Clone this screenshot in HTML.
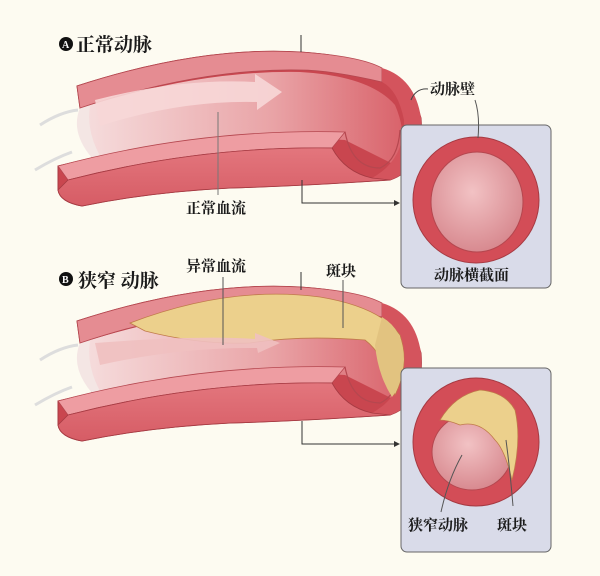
<!DOCTYPE html>
<html><head><meta charset="utf-8"><style>
body{margin:0;background:#fdfbf1;}
svg{display:block}
text{font-family:"Liberation Serif","Noto Serif CJK SC",serif;fill:#1a1a1a;font-weight:bold;}
</style></head><body>
<svg width="600" height="576" viewBox="0 0 600 576" xmlns="http://www.w3.org/2000/svg">
<defs>
<linearGradient id="lum" x1="0" x2="1"><stop offset="0" stop-color="#f6dede"/><stop offset="0.6" stop-color="#e9a3a6"/><stop offset="1" stop-color="#d9636b"/></linearGradient>
<linearGradient id="front" x1="0" y1="0" x2="0" y2="1"><stop offset="0" stop-color="#e3767d"/><stop offset="1" stop-color="#d65c65"/></linearGradient>
<radialGradient id="inner" cx="0.45" cy="0.4" r="0.6"><stop offset="0" stop-color="#f2c2c4"/><stop offset="1" stop-color="#d88a90"/></radialGradient>
<g id="artery">
  <path d="M77,86 Q200,46 300,52 Q405,58 421,118 Q425,168 390,180 Q300,186 230,188 Q150,192 82,206 Q60,202 58,190 L58,166 L92,158 Q86,130 80,108 Z" fill="#c9464f" stroke="#a63a42" stroke-width="1"/>
  <path d="M80,108 Q200,70 300,72 Q370,76 395,105 Q410,140 395,165 L345,140 Q200,130 92,158 Q86,130 80,108 Z" fill="url(#lum)"/>
  <path d="M80,108 Q70,132 92,158 L100,156 Q86,130 90,106 Z" fill="#f4e6e4"/>
  <path d="M77,86 Q200,46 300,52 Q360,56 382,68 L382,82 Q330,70 300,70 Q200,68 80,108 Z" fill="#e58c92" stroke="#b5474f" stroke-width="0.8"/>
  <path d="M382,68 Q415,78 421,118 Q425,168 390,180 L372,178 Q405,160 404,120 Q398,90 382,82 Z" fill="#d4545d"/>
  <path d="M58,166 Q200,128 345,132 L332,148 Q200,146 68,180 Z" fill="#ee9da2" stroke="#b5474f" stroke-width="0.8"/>
  <path d="M68,180 Q200,146 332,148 Q345,172 372,178 L390,180 Q300,186 230,188 Q150,192 82,206 Q60,202 58,190 Z" fill="url(#front)" stroke="#a63a42" stroke-width="0.8"/>
  <path d="M345,132 Q352,168 380,168 Q398,160 400,130" fill="none" stroke="#b5474f" stroke-width="1.2"/>
  <path d="M40,125 Q60,112 78,110 M35,170 Q55,158 72,152" stroke="#ddd" stroke-width="3" fill="none"/>
</g>
</defs>

<use href="#artery"/>
<path d="M95,100 Q180,78 255,82 L255,74 L282,92 L257,110 L257,102 Q180,100 100,126 Z" fill="#f7d7d7" opacity="0.9"/>
<circle cx="66" cy="44" r="7" fill="#111"/><text x="62" y="48" font-size="10" style="fill:#fff" font-family="Liberation Sans">A</text>
<text x="76" y="51" font-size="19">正常动脉</text>
<line x1="301" y1="35" x2="301" y2="52" stroke="#333"/>
<line x1="218" y1="112" x2="218" y2="195" stroke="#777"/>
<text x="186" y="213" font-size="15">正常血流</text>
<path d="M302,180 V203 H398" fill="none" stroke="#333"/><path d="M400,203 l-6,-3 v6 z" fill="#333"/>
<path d="M411,100 Q416,88 428,89" fill="none" stroke="#444"/>
<text x="430" y="94" font-size="15">动脉壁</text>
<rect x="401" y="125" width="150" height="163" rx="6" fill="#d9dbe9" stroke="#666"/>
<ellipse cx="476" cy="200" rx="63" ry="63" fill="#d34d57" stroke="#a63a42"/>
<ellipse cx="477" cy="202" rx="46" ry="50" fill="url(#inner)" stroke="#b5474f"/>
<path d="M478,138 Q480,115 475,100" fill="none" stroke="#555"/>
<text x="434" y="280" font-size="15">动脉横截面</text>

<g transform="translate(0,235)"><use href="#artery"/>
<path d="M130,88 Q230,50 320,62 Q380,72 400,100 Q410,130 395,160 Q385,120 365,105 Q300,100 250,108 Q200,110 145,96 Z" fill="#ecd08c" stroke="#c07a4a" stroke-width="0.8"/>
<path d="M382,82 Q404,95 404,125 Q402,150 392,162 Q378,140 375,110 Z" fill="#e2c380"/>
<path d="M95,108 Q200,100 255,104 L255,98 L280,108 L258,118 L257,113 Q180,112 100,130 Z" fill="#f0c0c0" opacity="0.9"/>
</g>
<circle cx="66" cy="279" r="7" fill="#111"/><text x="62" y="283" font-size="10" style="fill:#fff" font-family="Liberation Sans">B</text>
<text x="78" y="287" font-size="19">狭窄 动脉</text>
<text x="186" y="271" font-size="15">异常血流</text>
<text x="326" y="276" font-size="15">斑块</text>
<line x1="223" y1="277" x2="223" y2="345" stroke="#555"/>
<line x1="301" y1="272" x2="301" y2="290" stroke="#333"/>
<line x1="343" y1="280" x2="343" y2="328" stroke="#555"/>
<path d="M302,421 V444 H398" fill="none" stroke="#333"/><path d="M400,444 l-6,-3 v6 z" fill="#333"/>
<rect x="401" y="368" width="150" height="184" rx="6" fill="#d9dbe9" stroke="#666"/>
<ellipse cx="476" cy="442" rx="63" ry="64" fill="#d34d57" stroke="#a63a42"/>
<ellipse cx="472" cy="452" rx="40" ry="38" fill="url(#inner)" stroke="#b5474f"/>
<path d="M440,420 Q455,395 480,390 Q505,392 515,410 Q522,440 512,480 Q505,450 495,440 Q480,420 460,425 Q448,420 440,420 Z" fill="#ecd08c" stroke="#c07a4a" stroke-width="0.8"/>
<path d="M441,512 Q448,480 462,455" fill="none" stroke="#555"/>
<path d="M513,506 Q510,470 506,440" fill="none" stroke="#555"/>
<text x="408" y="530" font-size="15">狭窄动脉</text>
<text x="497" y="530" font-size="15">斑块</text>
</svg>
</body></html>
